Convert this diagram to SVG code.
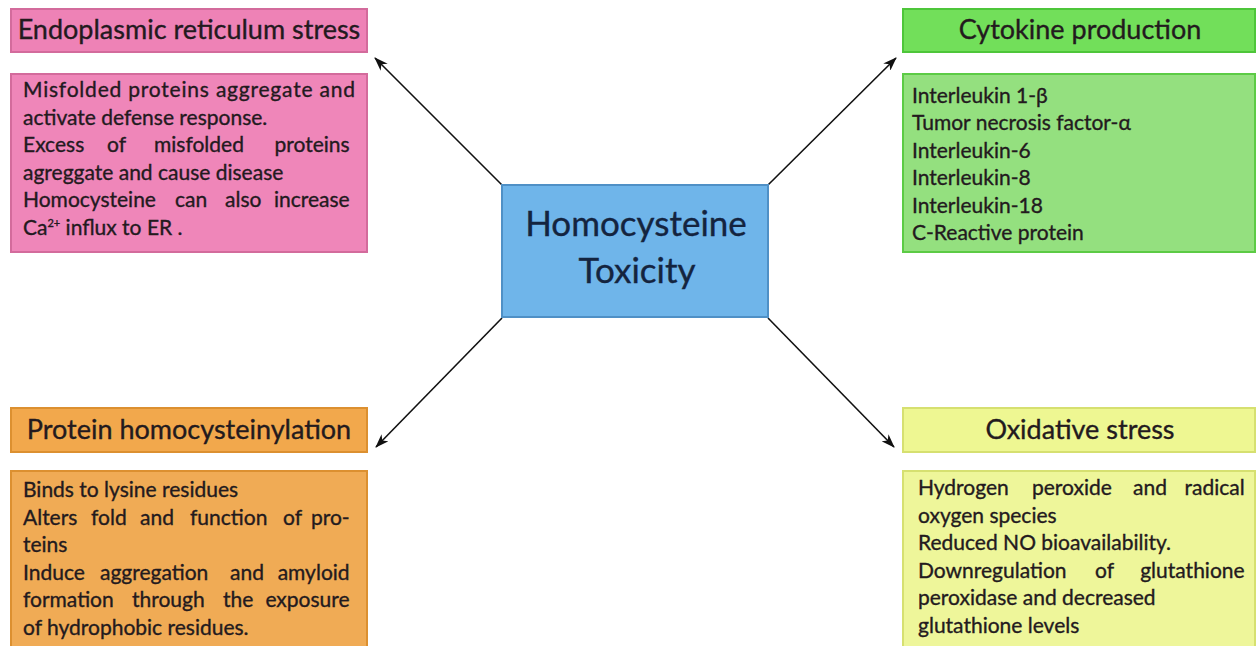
<svg xmlns="http://www.w3.org/2000/svg" width="1257" height="646" viewBox="0 0 1257 646">
<style>
.t{font-family:Lato,"Liberation Sans",sans-serif;fill:#231a1e;stroke:#231a1e;stroke-width:0.35}
.title{font-size:27px}
.body{font-size:21px}
.center{font-size:35px;fill:#14243f;stroke:#14243f}
.conn{stroke:#111;stroke-width:1.6;fill:none;marker-end:url(#ah)}
</style>
<defs>
<marker id="ah" viewBox="0 0 14 10" refX="13" refY="5" markerWidth="14" markerHeight="10" markerUnits="userSpaceOnUse" orient="auto">
<path d="M0,0 L14,5 L0,10 L4,5 Z" fill="#111"/>
</marker>
</defs>
<rect width="1257" height="646" fill="#fff"/>

<g id="connectors">
<line class="conn" x1="502" y1="185" x2="375" y2="58"/>
<line class="conn" x1="768" y1="185" x2="896" y2="58"/>
<line class="conn" x1="502" y1="318" x2="376" y2="447"/>
<line class="conn" x1="768" y1="318" x2="894" y2="447"/>
</g>

<g id="center">
<rect x="502" y="185" width="266" height="132" fill="#6fb5ea" stroke="#4f90c6" stroke-width="2"/>
<text class="t center" x="636" y="236" text-anchor="middle">Homocysteine</text>
<text class="t center" x="637" y="283" text-anchor="middle">Toxicity</text>
</g>

<g id="er-stress">
<rect x="11" y="9" width="356" height="43" fill="#ee82b6" stroke="#d36b9c" stroke-width="2"/>
<text class="t title" x="189" y="39" text-anchor="middle">Endoplasmic reticulum stress</text>
<rect x="11" y="74" width="356" height="178" fill="#ef86b9" stroke="#d36b9c" stroke-width="2"/>
<text class="t body">
<tspan x="23" y="97" textLength="332" lengthAdjust="spacing">Misfolded proteins aggregate and</tspan>
<tspan x="23" y="124.5">activate defense response.</tspan>
<tspan x="23" y="152">Excess</tspan><tspan x="107" y="152">of</tspan><tspan x="154" y="152">misfolded</tspan><tspan x="355" y="152" text-anchor="end">proteins</tspan>
<tspan x="23" y="179.5">agreggate and cause disease</tspan>
<tspan x="23" y="207">Homocysteine</tspan><tspan x="175" y="207">can</tspan><tspan x="225" y="207">also</tspan><tspan x="355" y="207" text-anchor="end">increase</tspan>
<tspan x="23" y="234.5">Ca<tspan font-size="11" dy="-8">2+</tspan><tspan dy="8"> influx to ER .</tspan></tspan>
</text>
</g>

<g id="cytokine">
<rect x="903" y="9" width="352" height="43" fill="#72df5a" stroke="#4ec63a" stroke-width="2"/>
<text class="t title" x="1080" y="39" text-anchor="middle">Cytokine production</text>
<rect x="903" y="74" width="352" height="178" fill="#94e07f" stroke="#5ccb45" stroke-width="2"/>
<text class="t body">
<tspan x="912" y="102.5">Interleukin 1-β</tspan>
<tspan x="912" y="130">Tumor necrosis factor-α</tspan>
<tspan x="912" y="157.5">Interleukin-6</tspan>
<tspan x="912" y="185">Interleukin-8</tspan>
<tspan x="912" y="212.5">Interleukin-18</tspan>
<tspan x="912" y="240">C-Reactive protein</tspan>
</text>
</g>

<g id="protein">
<rect x="11" y="408" width="356" height="44" fill="#f2a84c" stroke="#dc9030" stroke-width="2"/>
<text class="t title" x="189" y="439" text-anchor="middle">Protein homocysteinylation</text>
<rect x="11" y="471" width="356" height="180" fill="#f0ab55" stroke="#dc9030" stroke-width="2"/>
<text class="t body">
<tspan x="23" y="497">Binds to lysine residues</tspan>
<tspan x="23" y="524.5">Alters</tspan><tspan x="91" y="524.5">fold</tspan><tspan x="140" y="524.5">and</tspan><tspan x="190" y="524.5">function</tspan><tspan x="283" y="524.5">of</tspan><tspan x="355" y="524.5" text-anchor="end">pro-</tspan>
<tspan x="23" y="552">teins</tspan>
<tspan x="23" y="579.5">Induce</tspan><tspan x="100" y="579.5">aggregation</tspan><tspan x="230" y="579.5">and</tspan><tspan x="355" y="579.5" text-anchor="end">amyloid</tspan>
<tspan x="23" y="607">formation</tspan><tspan x="132" y="607">through</tspan><tspan x="223" y="607">the</tspan><tspan x="355" y="607" text-anchor="end">exposure</tspan>
<tspan x="23" y="634.5">of hydrophobic residues.</tspan>
</text>
</g>

<g id="oxidative">
<rect x="903" y="408" width="352" height="44" fill="#eef792" stroke="#d6e070" stroke-width="2"/>
<text class="t title" x="1080" y="439" text-anchor="middle">Oxidative stress</text>
<rect x="903" y="471" width="352" height="180" fill="#eef69a" stroke="#d6e070" stroke-width="2"/>
<text class="t body">
<tspan x="918" y="495">Hydrogen</tspan><tspan x="1032" y="495">peroxide</tspan><tspan x="1133" y="495">and</tspan><tspan x="1250" y="495" text-anchor="end">radical</tspan>
<tspan x="918" y="522.5">oxygen species</tspan>
<tspan x="918" y="550">Reduced NO bioavailability.</tspan>
<tspan x="918" y="577.5">Downregulation</tspan><tspan x="1095" y="577.5">of</tspan><tspan x="1250" y="577.5" text-anchor="end">glutathione</tspan>
<tspan x="918" y="605">peroxidase and decreased</tspan>
<tspan x="918" y="632.5">glutathione levels</tspan>
</text>
</g>
</svg>
